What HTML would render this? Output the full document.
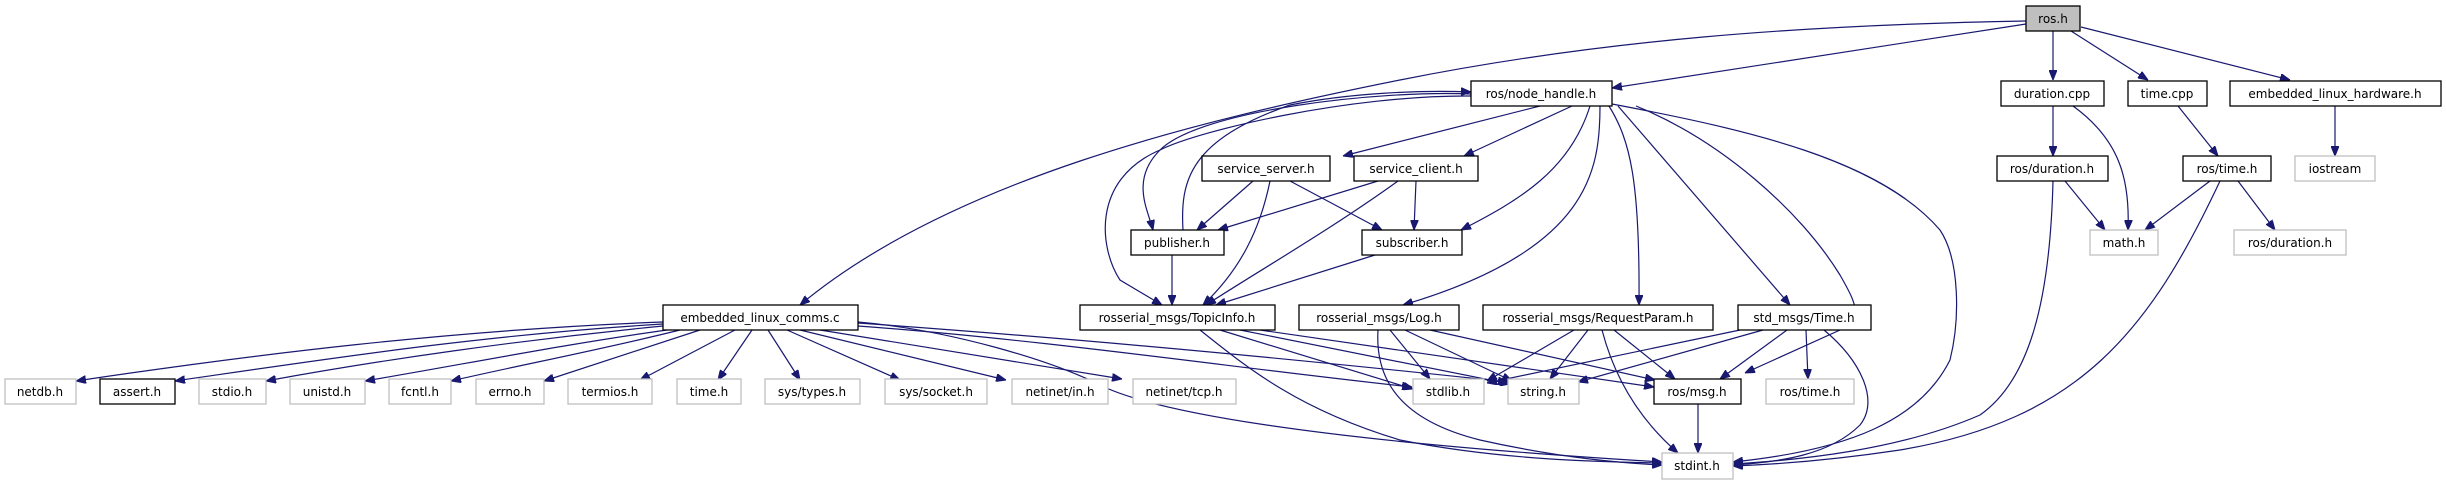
<!DOCTYPE html>
<html><head><meta charset="utf-8"><style>
html,body{margin:0;padding:0;background:#fff;}
svg{display:block;}
text{font-family:"DejaVu Sans","Liberation Sans",sans-serif;font-size:12px;fill:#000;}
.e{fill:none;stroke:#191970;stroke-width:1.2;}
.d{fill:#fff;stroke:#000;stroke-width:1.3;}
.u{fill:#fff;stroke:#bfbfbf;stroke-width:1.3;}
</style></head><body>
<svg width="2446" height="485" viewBox="0 0 2446 485" xmlns="http://www.w3.org/2000/svg">
<defs><marker id="a" viewBox="0 0 10 8" refX="10" refY="4" markerWidth="10" markerHeight="8" markerUnits="userSpaceOnUse" orient="auto"><path d="M0,0 L10,4 L0,8 z" fill="#191970" stroke="#191970"/></marker></defs>
<g class="e" marker-end="url(#a)">
<path d="M2026,24 L1612,88"/>
<path d="M2026,21 C1800,25 1600,40 1400,80 C1200,120 950,180 800,305"/>
<path d="M2053,31 L2053,80"/>
<path d="M2071,31 L2148,80"/>
<path d="M2081,27 L2290,80"/>
<path d="M2053,106 L2053,156"/>
<path d="M2073,106 C2120,140 2130,180 2128,230"/>
<path d="M2178,106 L2218,156"/>
<path d="M2335,106 L2335,156"/>
<path d="M2065,181 L2105,230"/>
<path d="M2053,181 C2050,300 2030,380 1980,415 C1900,450 1800,460 1733,464"/>
<path d="M2210,181 L2145,230"/>
<path d="M2238,181 L2275,230"/>
<path d="M2220,181 C2150,330 2080,420 1900,450 C1820,462 1760,465 1733,466"/>
<path d="M1540,106 L1343,156"/>
<path d="M1572,106 L1464,156"/>
<path d="M1590,106 C1570,170 1520,200 1461,230"/>
<path d="M1600,106 C1600,170 1590,250 1403,305"/>
<path d="M1609,106 C1630,140 1640,180 1639,305"/>
<path d="M1618,106 L1790,305"/>
<path d="M1636,106 C1720,140 1800,210 1840,275 C1860,310 1860,315 1840,330 L1745,373"/>
<path d="M1612,104 C1750,130 1880,160 1940,230 C1960,260 1960,320 1950,360 C1920,420 1850,450 1733,462"/>
<path d="M1471,94 C1380,90 1200,110 1160,150 C1130,180 1148,210 1153,230"/>
<path d="M1471,96 C1350,95 1200,130 1160,150 C1090,180 1100,250 1120,280 L1162,305"/>
<path d="M1183,230 C1180,180 1190,140 1290,105 C1350,93 1420,90 1471,92"/>
<path d="M1253,181 L1197,230"/>
<path d="M1270,181 C1260,230 1240,270 1203,305"/>
<path d="M1290,181 L1382,230"/>
<path d="M1378,181 L1218,230"/>
<path d="M1398,181 C1330,230 1260,270 1206,305"/>
<path d="M1416,181 L1414,230"/>
<path d="M1172,255 L1172,305"/>
<path d="M1375,255 L1216,305"/>
<path d="M1220,330 L1413,389"/>
<path d="M1240,330 L1510,384"/>
<path d="M1260,330 L1654,387"/>
<path d="M1200,330 C1250,370 1300,410 1400,440 C1500,460 1600,462 1662,463"/>
<path d="M1390,330 L1430,379"/>
<path d="M1405,330 L1512,381"/>
<path d="M1430,330 L1655,380"/>
<path d="M1378,330 C1375,380 1400,420 1480,440 C1560,458 1620,463 1662,465"/>
<path d="M1574,330 L1487,381"/>
<path d="M1588,330 L1550,379"/>
<path d="M1614,330 L1675,379"/>
<path d="M1602,330 C1615,380 1640,420 1678,453"/>
<path d="M1740,330 L1487,383"/>
<path d="M1763,330 L1578,382"/>
<path d="M1787,330 L1720,379"/>
<path d="M1806,330 L1808,379"/>
<path d="M1824,330 C1860,360 1880,400 1860,425 C1830,455 1780,462 1733,465"/>
<path d="M1698,404 L1698,453"/>
<path d="M663,322 C450,330 250,355 76,381"/>
<path d="M663,324 C480,335 320,360 175,381"/>
<path d="M663,326 C520,340 380,360 266,381"/>
<path d="M667,330 C560,345 460,365 365,381"/>
<path d="M680,330 C600,350 520,365 451,381"/>
<path d="M700,330 L544,381"/>
<path d="M735,330 L640,380"/>
<path d="M752,330 L718,380"/>
<path d="M768,330 L800,380"/>
<path d="M787,330 L900,380"/>
<path d="M800,330 L1006,380"/>
<path d="M820,330 L1122,379"/>
<path d="M858,326 C1050,340 1250,370 1412,387"/>
<path d="M858,323 C1100,340 1350,365 1508,382"/>
<path d="M858,322 C950,330 1050,360 1100,385 C1150,410 1300,440 1662,462"/>
</g>
<g>
<rect x="2026" y="6" width="54" height="25" fill="#bfbfbf" stroke="#000" stroke-width="1.3"/>
<rect class="d" x="1471" y="81" width="141" height="25"/>
<rect class="d" x="2001" y="81" width="103" height="25"/>
<rect class="d" x="2128" y="81" width="79" height="25"/>
<rect class="d" x="2230" y="81" width="211" height="25"/>
<rect class="d" x="1202" y="156" width="128" height="25"/>
<rect class="d" x="1354" y="156" width="124" height="25"/>
<rect class="d" x="1997" y="156" width="111" height="25"/>
<rect class="d" x="2183" y="156" width="88" height="25"/>
<rect class="u" x="2295" y="156" width="80" height="25"/>
<rect class="d" x="1131" y="230" width="93" height="25"/>
<rect class="d" x="1362" y="230" width="100" height="25"/>
<rect class="u" x="2090" y="230" width="68" height="25"/>
<rect class="u" x="2234" y="230" width="112" height="25"/>
<rect class="d" x="663" y="305" width="195" height="25"/>
<rect class="d" x="1080" y="305" width="195" height="25"/>
<rect class="d" x="1299" y="305" width="160" height="25"/>
<rect class="d" x="1483" y="305" width="230" height="25"/>
<rect class="d" x="1738" y="305" width="133" height="25"/>
<rect class="u" x="5" y="379" width="71" height="25"/>
<rect class="d" x="100" y="379" width="75" height="25"/>
<rect class="u" x="199" y="379" width="67" height="25"/>
<rect class="u" x="290" y="379" width="75" height="25"/>
<rect class="u" x="389" y="379" width="62" height="25"/>
<rect class="u" x="476" y="379" width="68" height="25"/>
<rect class="u" x="568" y="379" width="84" height="25"/>
<rect class="u" x="677" y="379" width="64" height="25"/>
<rect class="u" x="765" y="379" width="95" height="25"/>
<rect class="u" x="885" y="379" width="102" height="25"/>
<rect class="u" x="1012" y="379" width="96" height="25"/>
<rect class="u" x="1133" y="379" width="103" height="25"/>
<rect class="u" x="1413" y="379" width="71" height="25"/>
<rect class="u" x="1508" y="379" width="71" height="25"/>
<rect class="d" x="1654" y="379" width="87" height="25"/>
<rect class="u" x="1766" y="379" width="88" height="25"/>
<rect class="u" x="1662" y="453" width="71" height="26"/>
</g>
<g text-anchor="middle">
<text x="2053" y="23">ros.h</text>
<text x="1541" y="98">ros/node_handle.h</text>
<text x="2052" y="98">duration.cpp</text>
<text x="2167" y="98">time.cpp</text>
<text x="2335" y="98">embedded_linux_hardware.h</text>
<text x="1266" y="173">service_server.h</text>
<text x="1416" y="173">service_client.h</text>
<text x="2052" y="173">ros/duration.h</text>
<text x="2227" y="173">ros/time.h</text>
<text x="2335" y="173">iostream</text>
<text x="1177" y="247">publisher.h</text>
<text x="1412" y="247">subscriber.h</text>
<text x="2124" y="247">math.h</text>
<text x="2290" y="247">ros/duration.h</text>
<text x="760" y="322">embedded_linux_comms.c</text>
<text x="1177" y="322">rosserial_msgs/TopicInfo.h</text>
<text x="1379" y="322">rosserial_msgs/Log.h</text>
<text x="1598" y="322">rosserial_msgs/RequestParam.h</text>
<text x="1804" y="322">std_msgs/Time.h</text>
<text x="40" y="396">netdb.h</text>
<text x="137" y="396">assert.h</text>
<text x="232" y="396">stdio.h</text>
<text x="327" y="396">unistd.h</text>
<text x="420" y="396">fcntl.h</text>
<text x="510" y="396">errno.h</text>
<text x="610" y="396">termios.h</text>
<text x="709" y="396">time.h</text>
<text x="812" y="396">sys/types.h</text>
<text x="936" y="396">sys/socket.h</text>
<text x="1060" y="396">netinet/in.h</text>
<text x="1184" y="396">netinet/tcp.h</text>
<text x="1448" y="396">stdlib.h</text>
<text x="1543" y="396">string.h</text>
<text x="1697" y="396">ros/msg.h</text>
<text x="1810" y="396">ros/time.h</text>
<text x="1697" y="470">stdint.h</text>
</g>
</svg>
</body></html>
